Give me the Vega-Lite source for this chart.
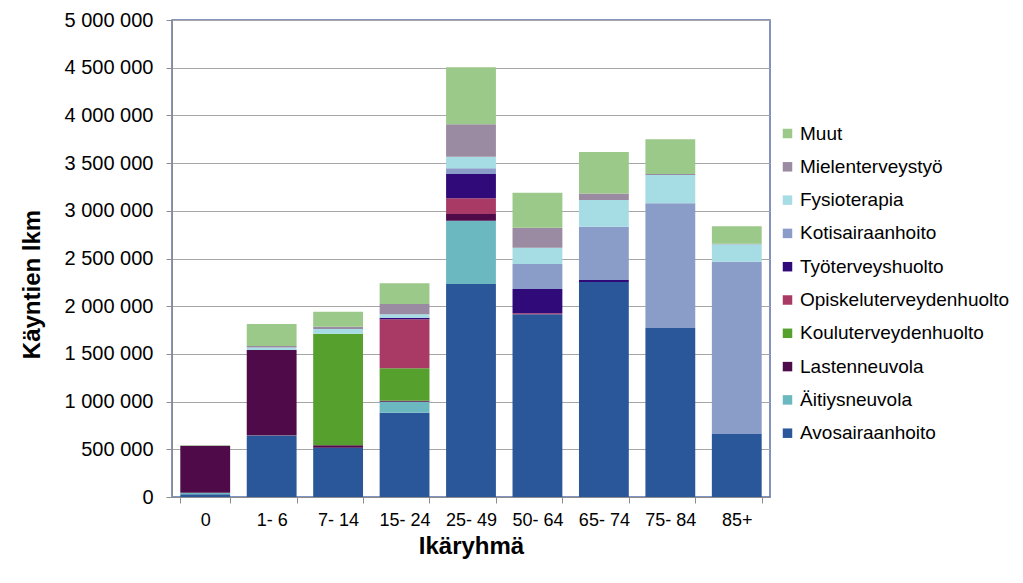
{
  "$schema": "https://vega.github.io/schema/vega-lite/v6.json",
  "width": 598,
  "height": 477,
  "autosize": "none",
  "padding": {"left": 172, "top": 20, "right": 253, "bottom": 86},
  "background": "white",
  "config": {
    "font": "Liberation Sans",
    "view": {"stroke": "#5B6FAA", "strokeWidth": 1.5}
  },
  "data": {
    "values": [
      {"age": "0", "cat": "Avosairaanhoito", "k": 1, "v": 30000},
      {"age": "0", "cat": "Äitiysneuvola", "k": 2, "v": 15000},
      {"age": "0", "cat": "Lastenneuvola", "k": 3, "v": 492000},
      {"age": "0", "cat": "Muut", "k": 10, "v": 5000},
      {"age": "1- 6", "cat": "Avosairaanhoito", "k": 1, "v": 640000},
      {"age": "1- 6", "cat": "Äitiysneuvola", "k": 2, "v": 5000},
      {"age": "1- 6", "cat": "Lastenneuvola", "k": 3, "v": 897000},
      {"age": "1- 6", "cat": "Fysioterapia", "k": 8, "v": 25000},
      {"age": "1- 6", "cat": "Mielenterveystyö", "k": 9, "v": 15000},
      {"age": "1- 6", "cat": "Muut", "k": 10, "v": 231000},
      {"age": "7- 14", "cat": "Avosairaanhoito", "k": 1, "v": 517000},
      {"age": "7- 14", "cat": "Lastenneuvola", "k": 3, "v": 25000},
      {"age": "7- 14", "cat": "Kouluterveydenhuolto", "k": 4, "v": 1168000},
      {"age": "7- 14", "cat": "Fysioterapia", "k": 8, "v": 50000},
      {"age": "7- 14", "cat": "Mielenterveystyö", "k": 9, "v": 25000},
      {"age": "7- 14", "cat": "Muut", "k": 10, "v": 157000},
      {"age": "15- 24", "cat": "Avosairaanhoito", "k": 1, "v": 884000},
      {"age": "15- 24", "cat": "Äitiysneuvola", "k": 2, "v": 115000},
      {"age": "15- 24", "cat": "Lastenneuvola", "k": 3, "v": 10000},
      {"age": "15- 24", "cat": "Kouluterveydenhuolto", "k": 4, "v": 340000},
      {"age": "15- 24", "cat": "Opiskeluterveydenhuolto", "k": 5, "v": 514000},
      {"age": "15- 24", "cat": "Työterveyshuolto", "k": 6, "v": 17000},
      {"age": "15- 24", "cat": "Fysioterapia", "k": 8, "v": 35000},
      {"age": "15- 24", "cat": "Mielenterveystyö", "k": 9, "v": 108000},
      {"age": "15- 24", "cat": "Muut", "k": 10, "v": 217000},
      {"age": "25- 49", "cat": "Avosairaanhoito", "k": 1, "v": 2233000},
      {"age": "25- 49", "cat": "Äitiysneuvola", "k": 2, "v": 663000},
      {"age": "25- 49", "cat": "Lastenneuvola", "k": 3, "v": 70000},
      {"age": "25- 49", "cat": "Opiskeluterveydenhuolto", "k": 5, "v": 165000},
      {"age": "25- 49", "cat": "Työterveyshuolto", "k": 6, "v": 255000},
      {"age": "25- 49", "cat": "Kotisairaanhoito", "k": 7, "v": 59000},
      {"age": "25- 49", "cat": "Fysioterapia", "k": 8, "v": 122000},
      {"age": "25- 49", "cat": "Mielenterveystyö", "k": 9, "v": 340000},
      {"age": "25- 49", "cat": "Muut", "k": 10, "v": 597000},
      {"age": "50- 64", "cat": "Avosairaanhoito", "k": 1, "v": 1915000},
      {"age": "50- 64", "cat": "Opiskeluterveydenhuolto", "k": 5, "v": 10000},
      {"age": "50- 64", "cat": "Työterveyshuolto", "k": 6, "v": 255000},
      {"age": "50- 64", "cat": "Kotisairaanhoito", "k": 7, "v": 262000},
      {"age": "50- 64", "cat": "Fysioterapia", "k": 8, "v": 171000},
      {"age": "50- 64", "cat": "Mielenterveystyö", "k": 9, "v": 210000},
      {"age": "50- 64", "cat": "Muut", "k": 10, "v": 367000},
      {"age": "65- 74", "cat": "Avosairaanhoito", "k": 1, "v": 2254000},
      {"age": "65- 74", "cat": "Työterveyshuolto", "k": 6, "v": 20000},
      {"age": "65- 74", "cat": "Kotisairaanhoito", "k": 7, "v": 558000},
      {"age": "65- 74", "cat": "Fysioterapia", "k": 8, "v": 280000},
      {"age": "65- 74", "cat": "Mielenterveystyö", "k": 9, "v": 70000},
      {"age": "65- 74", "cat": "Muut", "k": 10, "v": 434000},
      {"age": "75- 84", "cat": "Avosairaanhoito", "k": 1, "v": 1771000},
      {"age": "75- 84", "cat": "Kotisairaanhoito", "k": 7, "v": 1308000},
      {"age": "75- 84", "cat": "Fysioterapia", "k": 8, "v": 296000},
      {"age": "75- 84", "cat": "Mielenterveystyö", "k": 9, "v": 11000},
      {"age": "75- 84", "cat": "Muut", "k": 10, "v": 363000},
      {"age": "85+", "cat": "Avosairaanhoito", "k": 1, "v": 660000},
      {"age": "85+", "cat": "Kotisairaanhoito", "k": 7, "v": 1806000},
      {"age": "85+", "cat": "Fysioterapia", "k": 8, "v": 183000},
      {"age": "85+", "cat": "Mielenterveystyö", "k": 9, "v": 5000},
      {"age": "85+", "cat": "Muut", "k": 10, "v": 184000}
    ]
  },
  "mark": {"type": "bar"},
  "encoding": {
    "x": {
      "field": "age",
      "type": "nominal",
      "sort": ["0", "1- 6", "7- 14", "15- 24", "25- 49", "50- 64", "65- 74", "75- 84", "85+"],
      "scale": {"paddingInner": 0.25, "paddingOuter": 0.125},
      "axis": {
        "title": "Ikäryhmä",
        "titleFontSize": 24,
        "titleFontWeight": "bold",
        "titleColor": "#000000",
        "titlePadding": 5,
        "labelAngle": 0,
        "labelFontSize": 18,
        "labelColor": "#000000",
        "labelPadding": 8,
        "tickBand": "extent",
        "tickSize": 6,
        "tickColor": "#8C8C8C",
        "domainColor": "#8C8C8C",
        "grid": false
      }
    },
    "y": {
      "field": "v",
      "type": "quantitative",
      "stack": "zero",
      "scale": {"domain": [0, 5000000], "nice": false},
      "axis": {
        "title": "Käyntien lkm",
        "titleFontSize": 24,
        "titleFontWeight": "bold",
        "titleColor": "#000000",
        "titlePadding": 20,
        "titleY": 264,
        "values": [0, 500000, 1000000, 1500000, 2000000, 2500000, 3000000, 3500000, 4000000, 4500000, 5000000],
        "labelExpr": "replace(format(datum.value, ','), regexp(',', 'g'), ' ')",
        "labelFontSize": 20,
        "labelColor": "#000000",
        "labelPadding": 13,
        "tickSize": 6,
        "tickColor": "#8C8C8C",
        "domainColor": "#8C8C8C",
        "gridColor": "#A6A6A6",
        "gridWidth": 1.2
      }
    },
    "color": {
      "field": "cat",
      "type": "nominal",
      "scale": {
        "domain": ["Muut", "Mielenterveystyö", "Fysioterapia", "Kotisairaanhoito", "Työterveyshuolto", "Opiskeluterveydenhuolto", "Kouluterveydenhuolto", "Lastenneuvola", "Äitiysneuvola", "Avosairaanhoito"],
        "range": ["#9BC98A", "#9A8BA2", "#A6DCE4", "#8A9CC8", "#300A78", "#A93A66", "#56A02D", "#4F0A4A", "#6BB8C0", "#2A5799"]
      },
      "legend": {
        "title": null,
        "orient": "none",
        "legendX": 606,
        "legendY": 104,
        "symbolType": "square",
        "symbolSize": 90,
        "symbolStrokeWidth": 0,
        "labelFontSize": 19,
        "labelColor": "#000000",
        "labelOffset": 3,
        "rowPadding": 13.3,
        "labelLimit": 300
      }
    },
    "order": {"field": "k", "type": "quantitative", "sort": "ascending"}
  }
}
